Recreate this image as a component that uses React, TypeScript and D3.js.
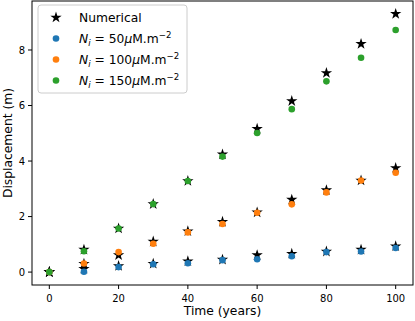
import React from "react";
import * as d3 from "d3";

const times = [0, 10, 20, 30, 40, 50, 60, 70, 80, 90, 100];
const numerical50 = [0, 0.12, 0.22, 0.3, 0.39, 0.45, 0.61, 0.66, 0.74, 0.81, 0.93];
const numerical100 = [0, 0.3, 0.61, 1.1, 1.47, 1.81, 2.15, 2.61, 2.95, 3.3, 3.75];
const numerical150 = [0, 0.81, 1.57, 2.45, 3.28, 4.24, 5.16, 6.16, 7.17, 8.22, 9.3];
const model50 = [0, 0.01, 0.18, 0.28, 0.32, 0.43, 0.46, 0.57, 0.72, 0.74, 0.87];
const model100 = [0, 0.31, 0.72, 1.02, 1.43, 1.73, 2.14, 2.44, 2.87, 3.3, 3.58];
const model150 = [0, 0.75, 1.57, 2.45, 3.28, 4.16, 5.01, 5.87, 6.87, 7.72, 8.72];
const concentrations = ["50", "100", "150"];
const seriesColors = ["#1f77b4", "#ff7f0e", "#2ca02c"];
const xTicks = [0, 20, 40, 60, 80, 100];
const yTicks = [0, 2, 4, 6, 8];

const W = 415;
const H = 321;
const L = 32, R = 413, T = 1, B = 285;
const FONT = "DejaVu Sans, sans-serif";

export default function App() {
  const x = d3.scaleLinear().domain([-5, 105]).range([L, R]);
  const y = d3.scaleLinear().domain([-0.465, 9.765]).range([B, T]);
  const star = d3.symbol().type(d3.symbolStar).size(40)() as string;
  const numerical = [numerical50, numerical100, numerical150];
  const models = [model50, model100, model150];

  const legendX = 38, legendY = 5, legendW = 149, legendH = 88;
  const rowY = [17.5, 38.5, 59.5, 80.5];

  return (
    <svg width={W} height={H} style={{ position: "absolute", left: 0, top: 0, background: "#fff" }} fontFamily={FONT}>
      <rect x={0} y={0} width={W} height={H} fill="#fff" />
      {numerical.map((arr, si) =>
        arr.map((v, i) => (
          <path key={`s${si}-${i}`} d={star} transform={`translate(${x(times[i])},${y(v)})`} fill="#000" />
        ))
      )}
      {models.map((arr, si) =>
        arr.map((v, i) => (
          <circle key={`c${si}-${i}`} cx={x(times[i])} cy={y(v)} r={3.3} fill={seriesColors[si]} />
        ))
      )}
      <rect x={L} y={T} width={R - L} height={B - T} fill="none" stroke="#000" strokeWidth={1} />
      {xTicks.map((t) => (
        <g key={`xt${t}`}>
          <line x1={x(t)} x2={x(t)} y1={B} y2={B + 4} stroke="#000" strokeWidth={1} />
          <text x={x(t)} y={B + 17} fontSize={10} textAnchor="middle" fill="#000">{t}</text>
        </g>
      ))}
      {yTicks.map((t) => (
        <g key={`yt${t}`}>
          <line x1={L - 4} x2={L} y1={y(t)} y2={y(t)} stroke="#000" strokeWidth={1} />
          <text x={L - 7} y={y(t) + 3.6} fontSize={10} textAnchor="end" fill="#000">{t}</text>
        </g>
      ))}
      <text x={(L + R) / 2} y={314.5} fontSize={12.3} textAnchor="middle" fill="#000">Time (years)</text>
      <text transform={`translate(12,${(T + B) / 2}) rotate(-90)`} fontSize={12.3} textAnchor="middle" fill="#000">Displacement (m)</text>
      <rect x={legendX} y={legendY} width={legendW} height={legendH} rx={3} fill="#fff" fillOpacity={0.8} stroke="#cccccc" strokeWidth={1} />
      <path d={star} transform={`translate(56,${rowY[0]})`} fill="#000" />
      <text x={79} y={rowY[0] + 4.5} fontSize={12.3} fill="#000">Numerical</text>
      {concentrations.map((c, i) => (
        <g key={`lg${c}`}>
          <circle cx={56} cy={rowY[i + 1]} r={3.3} fill={seriesColors[i]} />
          <text x={79} y={rowY[i + 1] + 4.5} fontSize={12.3} fill="#000">
            <tspan fontStyle="italic">N</tspan>
            <tspan fontStyle="italic" fontSize={8.6} dy={2.5}>i</tspan>
            <tspan dy={-2.5}> = {c}</tspan>
            <tspan fontStyle="italic">μ</tspan>
            <tspan>M.m</tspan>
            <tspan fontSize={8.6} dy={-5}>−2</tspan>
          </text>
        </g>
      ))}
    </svg>
  );
}
